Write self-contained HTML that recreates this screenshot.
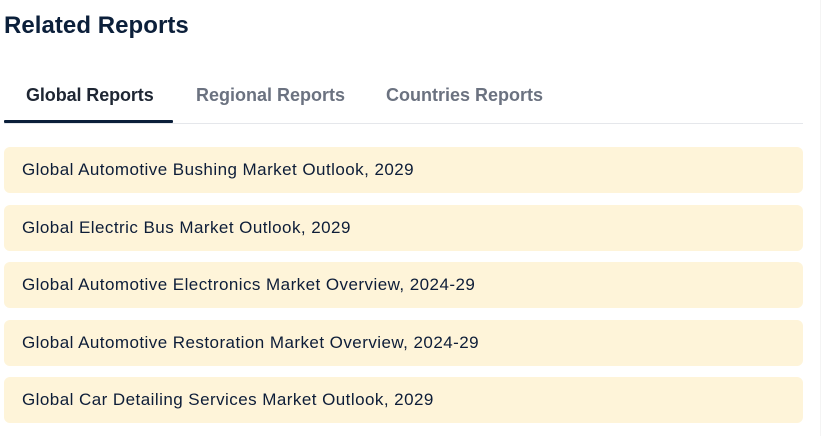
<!DOCTYPE html>
<html>
<head>
<meta charset="utf-8">
<style>
  html, body { margin:0; padding:0; background:#ffffff; }
  body { width:823px; height:436px; position:relative; overflow:hidden; font-family:"Liberation Sans", Arial, sans-serif; }
  .title { position:absolute; left:4px; top:11px; font-size:24px; font-weight:bold; color:#0b1f3a; line-height:30px; letter-spacing:0.05px; white-space:nowrap; }
  .tabs { position:absolute; left:4px; top:78px; width:799px; height:45px; border-bottom:1px solid #e5e7eb; }
  .tab { position:absolute; top:0; font-size:18px; font-weight:bold; line-height:34px; white-space:nowrap; color:#6b7280; letter-spacing:0px; }
  .tab.active { color:#1e2633; letter-spacing:-0.1px; }
  .underline { position:absolute; left:0; top:42px; width:169px; height:3px; background:#0b1f3a; border-radius:1px; }
  .card { position:absolute; left:4px; width:799px; height:46px; background:#fef4d9; border-radius:6px; }
  .card span { position:absolute; left:18px; top:0; line-height:46px; font-size:17px; color:#0d1d38; letter-spacing:0.45px; white-space:nowrap; }
  .vline { position:absolute; left:820px; top:0; width:1px; height:436px; background:#f4f4f4; }
</style>
</head>
<body>
  <div class="title">Related Reports</div>
  <div class="tabs">
    <div class="tab active" style="left:22px;">Global Reports</div>
    <div class="tab" style="left:192px;">Regional Reports</div>
    <div class="tab" style="left:382px;">Countries Reports</div>
    <div class="underline"></div>
  </div>
  <div class="card" style="top:147px;"><span>Global Automotive Bushing Market Outlook, 2029</span></div>
  <div class="card" style="top:205px;"><span>Global Electric Bus Market Outlook, 2029</span></div>
  <div class="card" style="top:262px;"><span>Global Automotive Electronics Market Overview, 2024-29</span></div>
  <div class="card" style="top:320px;"><span>Global Automotive Restoration Market Overview, 2024-29</span></div>
  <div class="card" style="top:377px;"><span>Global Car Detailing Services Market Outlook, 2029</span></div>
  <div class="vline"></div>
</body>
</html>
